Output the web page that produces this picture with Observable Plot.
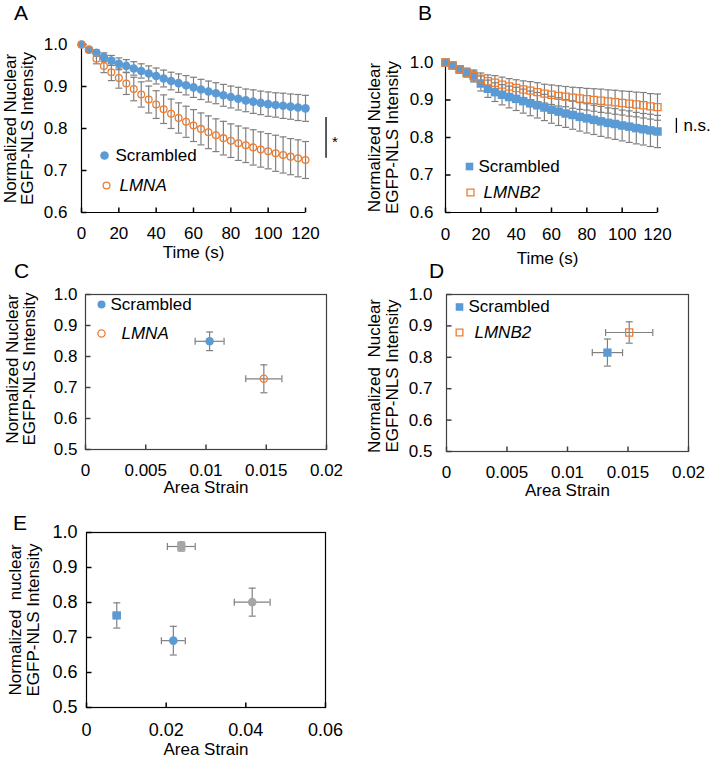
<!DOCTYPE html>
<html><head><meta charset="utf-8">
<script src="https://cdn.jsdelivr.net/npm/d3@7"></script>
<script src="https://cdn.jsdelivr.net/npm/@observablehq/plot@0.6"></script>
<style>
body{margin:0;background:#fff;}
#fig{position:relative;width:713px;height:759px;background:#fff;font-family:"Liberation Sans",Arial,sans-serif;overflow:hidden;}
.panel{position:absolute;}
.letter{position:absolute;font-size:21px;line-height:1;color:#000;}
</style></head><body><div id="fig"></div>
<script>
// ---------- DATA ----------
const time = [0,4,8,12,16,20,24,28,32,36,40,44,48,52,56,60,64,68,72,76,80,84,88,92,96,100,104,108,112,116,120];
const aScrambled = [1.000,0.988,0.980,0.970,0.962,0.954,0.949,0.943,0.937,0.931,0.925,0.919,0.913,0.908,0.903,0.898,0.893,0.888,0.884,0.879,0.875,0.871,0.867,0.864,0.861,0.858,0.856,0.854,0.852,0.850,0.848];
const aScrambledErr = [0,0.004,0.007,0.010,0.012,0.014,0.015,0.016,0.017,0.018,0.019,0.020,0.021,0.022,0.023,0.024,0.024,0.025,0.025,0.026,0.026,0.027,0.027,0.028,0.028,0.029,0.029,0.030,0.030,0.031,0.031];
const aLMNA = [1.000,0.987,0.966,0.949,0.934,0.920,0.907,0.894,0.881,0.869,0.857,0.846,0.835,0.825,0.816,0.807,0.799,0.791,0.784,0.777,0.771,0.765,0.760,0.755,0.750,0.746,0.741,0.737,0.733,0.729,0.725];
const aLMNAErr = [0,0.006,0.012,0.016,0.020,0.024,0.026,0.028,0.030,0.032,0.033,0.034,0.035,0.036,0.037,0.038,0.038,0.039,0.039,0.040,0.040,0.041,0.041,0.042,0.042,0.042,0.043,0.043,0.043,0.044,0.044];
const bScrambled = [1.000,0.992,0.981,0.973,0.964,0.944,0.930,0.921,0.914,0.908,0.903,0.897,0.891,0.886,0.880,0.874,0.869,0.864,0.860,0.855,0.851,0.847,0.843,0.839,0.836,0.832,0.829,0.825,0.822,0.819,0.816];
const bScrambledErr = [0,0.004,0.008,0.012,0.016,0.020,0.023,0.025,0.027,0.029,0.031,0.032,0.033,0.034,0.035,0.036,0.037,0.037,0.038,0.038,0.039,0.039,0.040,0.040,0.041,0.041,0.042,0.042,0.042,0.043,0.043];
const bLMNB2 = [1.000,0.992,0.982,0.973,0.964,0.957,0.950,0.946,0.941,0.936,0.932,0.928,0.925,0.921,0.917,0.914,0.911,0.909,0.906,0.904,0.902,0.900,0.898,0.896,0.894,0.892,0.890,0.888,0.886,0.883,0.881];
const bLMNB2Err = [0,0.004,0.007,0.010,0.013,0.015,0.017,0.019,0.020,0.021,0.022,0.023,0.024,0.025,0.025,0.026,0.027,0.027,0.028,0.029,0.029,0.030,0.031,0.031,0.032,0.032,0.033,0.033,0.034,0.034,0.035];

const timeTicks = [0,20,40,60,80,100,120];
const yTicksAB = [0.6,0.7,0.8,0.9,1.0];
const yTicksCDE = [0.5,0.6,0.7,0.8,0.9,1.0];
const xTicksCD = [0,0.005,0.01,0.015,0.02];
const xTicksE = [0,0.02,0.04,0.06];

const cGroups = ["Scrambled","LMNA"];
const cStrain = [0.0103,0.0148];
const cStrainErr = [0.0012,0.0015];
const cIntensity = [0.849,0.728];
const cIntensityErr = [0.030,0.045];

const dGroups = ["Scrambled","LMNB2"];
const dStrain = [0.0133,0.0151];
const dStrainErr = [0.00125,0.00195];
const dIntensity = [0.815,0.879];
const dIntensityErr = [0.043,0.034];

const eGroups = ["Group 1","Group 2","Group 3","Group 4"];
const eStrain = [0.0076,0.0218,0.0238,0.0416];
const eStrainErr = [0.0009,0.003,0.0035,0.0045];
const eIntensity = [0.763,0.691,0.960,0.801];
const eIntensityErr = [0.036,0.041,0.013,0.040];

// ---------- STYLE ----------
const FONT = '"Liberation Sans", Arial, sans-serif';
const BLUE = "#5B9BD5", ORANGE = "#ED7D31", GRAY = "#A5A5A5", ERR = "#808080", INK = "#000", FRAME = "#404040";
const eStyle = [
  {fill: BLUE, symbol: "square", r: 4.7},
  {fill: BLUE, symbol: "circle", r: 4.3},
  {fill: GRAY, symbol: "square", r: 4.7},
  {fill: GRAY, symbol: "circle", r: 4.3}
];
const capH = w => ({draw(c){c.moveTo(-w/2,0);c.lineTo(w/2,0);}});
const capV = h => ({draw(c){c.moveTo(0,-h/2);c.lineTo(0,h/2);}});
const tickUp = {draw(c){c.moveTo(0,0);c.lineTo(0,-5);}};
const tickRight = {draw(c){c.moveTo(0,0);c.lineTo(5,0);}};
const baseStyle = {fontFamily: FONT, fontSize: "17px", color: INK, background: "none", overflow: "visible"};

function vErr(rows, x, y, e, cap = 7) {
  return [
    Plot.ruleX(rows, {x, y1: d => d[y] - d[e], y2: d => d[y] + d[e], stroke: ERR, strokeWidth: 1.2}),
    Plot.dot(rows, {x, y: d => d[y] - d[e], symbol: capH(cap), stroke: ERR, strokeWidth: 1.2, fill: "none"}),
    Plot.dot(rows, {x, y: d => d[y] + d[e], symbol: capH(cap), stroke: ERR, strokeWidth: 1.2, fill: "none"})
  ];
}
function hErr(rows, x, y, e, cap = 7) {
  return [
    Plot.ruleY(rows, {y, x1: d => d[x] - d[e], x2: d => d[x] + d[e], stroke: ERR, strokeWidth: 1.2}),
    Plot.dot(rows, {y, x: d => d[x] - d[e], symbol: capV(cap), stroke: ERR, strokeWidth: 1.2, fill: "none"}),
    Plot.dot(rows, {y, x: d => d[x] + d[e], symbol: capV(cap), stroke: ERR, strokeWidth: 1.2, fill: "none"})
  ];
}
function yLabel(text, dx, dy = 0) {
  return Plot.text([text], {frameAnchor: "left", rotate: -90, dx, dy, lineAnchor: "middle", textAnchor: "middle", lineHeight: 1.02, fontSize: 17});
}
function xLabel(text, dy, dx = 0) {
  return Plot.text([text], {frameAnchor: "bottom", dy, dx, lineAnchor: "middle", textAnchor: "middle", fontSize: 17});
}
function legendItem(label, {dx, dy, tdx, fill, stroke, symbol, r, italic}) {
  return [
    Plot.dot([label], {x: null, frameAnchor: "top-left", dx, dy, r, symbol, fill: fill || "none", stroke: stroke || "none", strokeWidth: 1.3}),
    Plot.text([label], {frameAnchor: "top-left", dx: tdx, dy, textAnchor: "start", lineAnchor: "middle", fontSize: 17, fontStyle: italic ? "italic" : "normal"})
  ];
}

const fig = document.getElementById("fig");
function place(el, left, top) {
  const d = document.createElement("div");
  d.className = "panel"; d.style.left = left + "px"; d.style.top = top + "px";
  d.appendChild(el); fig.appendChild(d);
}
function letter(t, left, top) {
  const d = document.createElement("div");
  d.className = "letter"; d.textContent = t; d.style.left = left + "px"; d.style.top = top + "px";
  fig.appendChild(d);
}

// ---------- PANEL A ----------
const aRows = time.map((t, i) => ({t, s: aScrambled[i], se: aScrambledErr[i], l: aLMNA[i], le: aLMNAErr[i]}));
place(Plot.plot({
  width: 355, height: 262, marginLeft: 81, marginRight: 50, marginTop: 44, marginBottom: 50,
  x: {domain: [0, 120]}, y: {domain: [0.6, 1.0]},
  style: baseStyle,
  marks: [
    Plot.ruleY([0.6], {stroke: INK, strokeWidth: 1.2}),
    Plot.ruleX([0], {stroke: INK, strokeWidth: 1.2}),
    Plot.dot(timeTicks, {x: d => d, frameAnchor: "bottom", symbol: tickUp, stroke: INK, fill: "none"}),
    Plot.dot(yTicksAB, {y: d => d, frameAnchor: "left", symbol: tickRight, stroke: INK, fill: "none"}),
    Plot.axisX({ticks: timeTicks, tickSize: 0, tickPadding: 14, label: null, fontSize: 17}),
    Plot.axisY({ticks: yTicksAB, tickSize: 0, tickPadding: 14, tickFormat: d => d.toFixed(1), label: null, fontSize: 17}),
    ...vErr(aRows, "t", "s", "se"),
    ...vErr(aRows, "t", "l", "le"),
    Plot.dot(aRows, {x: "t", y: "s", r: 4.3, fill: BLUE}),
    Plot.dot(aRows, {x: "t", y: "l", r: 3.4, fill: "none", stroke: ORANGE, strokeWidth: 1.3}),
    ...legendItem("Scrambled", {dx: 23, dy: 111, tdx: 34, fill: BLUE, r: 4.3, symbol: "circle"}),
    ...legendItem("LMNA", {dx: 25, dy: 141, tdx: 38, stroke: ORANGE, r: 3.4, symbol: "circle", italic: true}),
    Plot.ruleX([{x: 131, y1: 0.729, y2: 0.826}], {x: "x", y1: "y1", y2: "y2", stroke: INK, strokeWidth: 1.3}),
    Plot.text([{x: 131, y: 0.7775, s: "*"}], {x: "x", y: "y", text: "s", textAnchor: "start", lineAnchor: "middle", dx: 6, dy: 4, fontSize: 15}),
    yLabel("Normalized Nuclear\nEGFP-NLS Intensity", -62.5),
    xLabel("Time (s)", 40)
  ]
}), 0, 0);

// ---------- PANEL B ----------
const bRows = time.map((t, i) => ({t, s: bScrambled[i], se: bScrambledErr[i], l: bLMNB2[i], le: bLMNB2Err[i]}));
place(Plot.plot({
  width: 358, height: 270, marginLeft: 90, marginRight: 56, marginTop: 62, marginBottom: 58,
  x: {domain: [0, 120]}, y: {domain: [0.6, 1.0]},
  style: baseStyle,
  marks: [
    Plot.ruleY([0.6], {stroke: INK, strokeWidth: 1.2}),
    Plot.ruleX([0], {stroke: INK, strokeWidth: 1.2}),
    Plot.dot(timeTicks, {x: d => d, frameAnchor: "bottom", symbol: tickUp, stroke: INK, fill: "none"}),
    Plot.dot(yTicksAB, {y: d => d, frameAnchor: "left", symbol: tickRight, stroke: INK, fill: "none"}),
    Plot.axisX({ticks: timeTicks, tickSize: 0, tickPadding: 15, label: null, fontSize: 17}),
    Plot.axisY({ticks: yTicksAB, tickSize: 0, tickPadding: 12, tickFormat: d => d.toFixed(1), label: null, fontSize: 17}),
    ...vErr(bRows, "t", "s", "se"),
    ...vErr(bRows, "t", "l", "le"),
    Plot.dot(bRows, {x: "t", y: "s", r: 4.8, symbol: "square", fill: BLUE}),
    Plot.dot(bRows, {x: "t", y: "l", r: 4.0, symbol: "square", fill: "none", stroke: ORANGE, strokeWidth: 1.3}),
    ...legendItem("Scrambled", {dx: 24, dy: 104, tdx: 33, fill: BLUE, r: 4.3, symbol: "square"}),
    ...legendItem("LMNB2", {dx: 25, dy: 130, tdx: 38, stroke: ORANGE, r: 3.9, symbol: "square", italic: true}),
    Plot.ruleX([{x: 130.7, y1: 0.811, y2: 0.851}], {x: "x", y1: "y1", y2: "y2", stroke: INK, strokeWidth: 1.3}),
    Plot.text([{x: 130.7, y: 0.831, s: "n.s."}], {x: "x", y: "y", text: "s", textAnchor: "start", lineAnchor: "middle", dx: 7, fontSize: 17}),
    yLabel("Normalized Nuclear\nEGFP-NLS Intensity", -62),
    xLabel("Time (s)", 46, -4)
  ]
}), 355, 0);

// ---------- PANEL C ----------
const cRows = cGroups.map((g, i) => ({g, x: cStrain[i], xe: cStrainErr[i], y: cIntensity[i], ye: cIntensityErr[i]}));
place(Plot.plot({
  width: 355, height: 225, marginLeft: 85, marginRight: 29, marginTop: 24, marginBottom: 46,
  x: {domain: [0, 0.02]}, y: {domain: [0.5, 1.0]},
  style: baseStyle,
  marks: [
    Plot.frame({stroke: FRAME, strokeWidth: 1.2}),
    Plot.dot(xTicksCD, {x: d => d, frameAnchor: "bottom", symbol: tickUp, stroke: FRAME, fill: "none"}),
    Plot.dot(yTicksCDE, {y: d => d, frameAnchor: "left", symbol: tickRight, stroke: FRAME, fill: "none"}),
    Plot.axisX({ticks: xTicksCD, tickSize: 0, tickPadding: 14, tickFormat: d => String(d), label: null, fontSize: 17}),
    Plot.axisY({ticks: yTicksCDE, tickSize: 0, tickPadding: 8, tickFormat: d => d.toFixed(1), label: null, fontSize: 17}),
    ...vErr(cRows, "x", "y", "ye"),
    ...hErr(cRows, "x", "y", "xe"),
    Plot.dot(cRows, {filter: d => d.g === "Scrambled", x: "x", y: "y", r: 4.3, fill: BLUE}),
    Plot.dot(cRows, {filter: d => d.g === "LMNA", x: "x", y: "y", r: 3.6, fill: "none", stroke: ORANGE, strokeWidth: 1.3}),
    ...legendItem("Scrambled", {dx: 16, dy: 10, tdx: 25, fill: BLUE, r: 4, symbol: "circle"}),
    ...legendItem("LMNA", {dx: 16, dy: 39, tdx: 36, stroke: ORANGE, r: 3.6, symbol: "circle", italic: true}),
    yLabel("Normalized Nuclear\nEGFP-NLS Intensity", -64.5, -3),
    xLabel("Area Strain", 38)
  ]
}), 0, 270);

// ---------- PANEL D ----------
const dRows = dGroups.map((g, i) => ({g, x: dStrain[i], xe: dStrainErr[i], y: dIntensity[i], ye: dIntensityErr[i]}));
place(Plot.plot({
  width: 358, height: 225, marginLeft: 91, marginRight: 25, marginTop: 24, marginBottom: 44,
  x: {domain: [0, 0.02]}, y: {domain: [0.5, 1.0]},
  style: baseStyle,
  marks: [
    Plot.frame({stroke: FRAME, strokeWidth: 1.2}),
    Plot.dot(xTicksCD, {x: d => d, frameAnchor: "bottom", symbol: tickUp, stroke: FRAME, fill: "none"}),
    Plot.dot(yTicksCDE, {y: d => d, frameAnchor: "left", symbol: tickRight, stroke: FRAME, fill: "none"}),
    Plot.axisX({ticks: xTicksCD, tickSize: 0, tickPadding: 14, tickFormat: d => String(d), label: null, fontSize: 17}),
    Plot.axisY({ticks: yTicksCDE, tickSize: 0, tickPadding: 14, tickFormat: d => d.toFixed(1), label: null, fontSize: 17}),
    ...vErr(dRows, "x", "y", "ye"),
    ...hErr(dRows, "x", "y", "xe"),
    Plot.dot(dRows, {filter: d => d.g === "Scrambled", x: "x", y: "y", r: 4.7, symbol: "square", fill: BLUE}),
    Plot.dot(dRows, {filter: d => d.g === "LMNB2", x: "x", y: "y", r: 4.0, symbol: "square", fill: "none", stroke: ORANGE, strokeWidth: 1.3}),
    ...legendItem("Scrambled", {dx: 13, dy: 12.5, tdx: 22, fill: BLUE, r: 4.3, symbol: "square"}),
    ...legendItem("LMNB2", {dx: 13, dy: 38, tdx: 28, stroke: ORANGE, r: 3.8, symbol: "square", italic: true}),
    yLabel("Normalized\u00a0 Nuclear\nEGFP-NLS Intensity", -63, 3),
    xLabel("Area Strain", 39)
  ]
}), 355, 270);

// ---------- PANEL E ----------
const eRows = eGroups.map((g, i) => ({g, i, x: eStrain[i], xe: eStrainErr[i], y: eIntensity[i], ye: eIntensityErr[i]}));
place(Plot.plot({
  width: 355, height: 259, marginLeft: 86, marginRight: 30, marginTop: 32, marginBottom: 52,
  x: {domain: [0, 0.06]}, y: {domain: [0.5, 1.0]},
  style: baseStyle,
  marks: [
    Plot.frame({stroke: INK, strokeWidth: 1.2}),
    Plot.dot(xTicksE, {x: d => d, frameAnchor: "bottom", symbol: tickUp, stroke: INK, fill: "none"}),
    Plot.dot(yTicksCDE, {y: d => d, frameAnchor: "left", symbol: tickRight, stroke: INK, fill: "none"}),
    Plot.axisX({ticks: xTicksE, tickSize: 0, tickPadding: 16, tickFormat: d => String(d), label: null, fontSize: 18}),
    Plot.axisY({ticks: yTicksCDE, tickSize: 0, tickPadding: 9, tickFormat: d => d.toFixed(1), label: null, fontSize: 18}),
    ...vErr(eRows, "x", "y", "ye"),
    ...hErr(eRows, "x", "y", "xe"),
    ...eStyle.map((st, k) => Plot.dot(eRows, {filter: d => d.i === k, x: "x", y: "y", r: st.r, symbol: st.symbol, fill: st.fill})),
    yLabel("Normalized\u00a0 nuclear\nEGFP-NLS Intensity", -62),
    xLabel("Area Strain", 42)
  ]
}), 0, 500);

// ---------- PANEL LETTERS ----------
letter("A", 14, 2);
letter("B", 418, 2);
letter("C", 14, 260);
letter("D", 429, 260);
letter("E", 13, 512);
</script>
</body></html>
